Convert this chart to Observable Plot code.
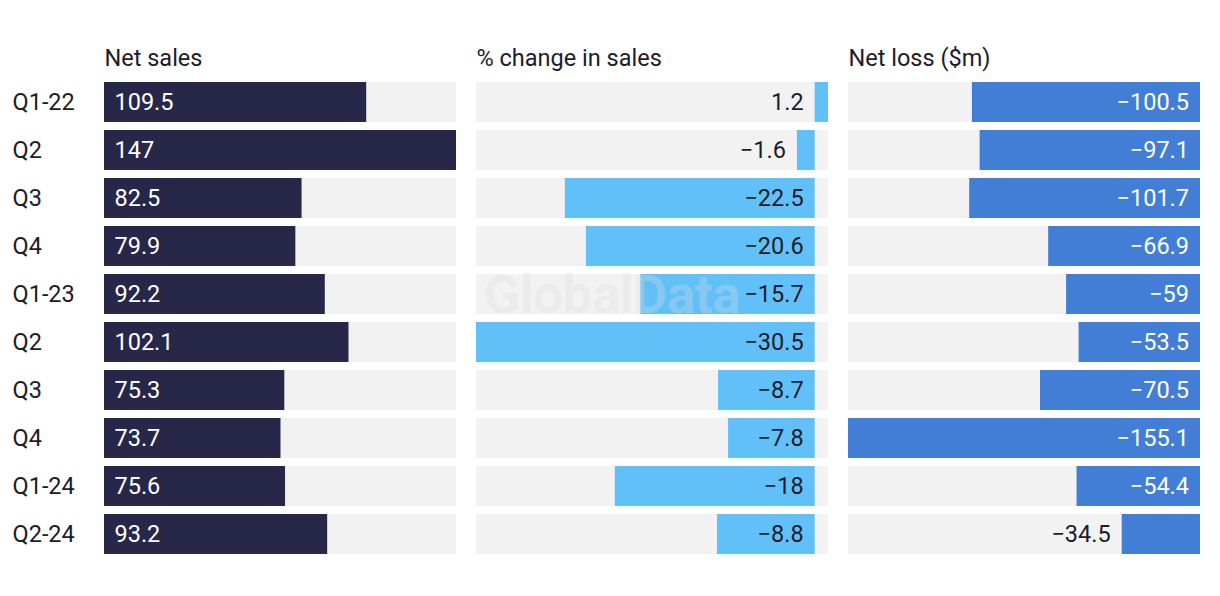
<!DOCTYPE html>
<html>
<head>
<meta charset="utf-8">
<script src="https://cdn.jsdelivr.net/npm/d3@7"></script>
<script src="https://cdn.jsdelivr.net/npm/@observablehq/plot@0.6"></script>
<style>
  html, body { margin: 0; padding: 0; background: #ffffff; }
  #wrap { position: relative; width: 1220px; height: 596px; display: flex; font-family: Roboto, "Noto Sans", sans-serif; }
  #wrap svg { display: block; }
  #wm { position: absolute; left: 484px; top: 264px; font: bold 53px Roboto, sans-serif; color: rgba(220,220,220,0.3); pointer-events: none; letter-spacing: -0.5px; }
</style>
</head>
<body>
<div id="wrap"></div>
<script>
// ---- data ----
const periods = ["Q1-22", "Q2", "Q3", "Q4", "Q1-23", "Q2", "Q3", "Q4", "Q1-24", "Q2-24"];
const netSales = [109.5, 147, 82.5, 79.9, 92.2, 102.1, 75.3, 73.7, 75.6, 93.2];
const pctChange = [1.2, -1.6, -22.5, -20.6, -15.7, -30.5, -8.7, -7.8, -18, -8.8];
const netLoss = [-100.5, -97.1, -101.7, -66.9, -59, -53.5, -70.5, -155.1, -54.4, -34.5];
const panelTitles = ["Net sales", "% change in sales", "Net loss ($m)"];

const idx = periods.map((_, i) => i);
const fmt = v => String(v).replace("-", "\u2212");
const FONT = 23.5;
const INK = "#1c1c2a";
const common = {
  height: 596,
  marginTop: 82,
  marginBottom: 42,
  style: { fontFamily: "Roboto, 'Noto Sans', sans-serif", fontSize: FONT + "px", background: "transparent", color: INK },
  y: { domain: idx, paddingInner: 8 / 48, paddingOuter: 0, axis: null, label: null }
};
const BG = "#f2f2f2";

function labelWidth(s) { return s.length * FONT * 0.56; }

function panel({ values, domain, color, width, marginLeft, marginRight, title, labelMode, withAxis }) {
  const rows = idx.map(i => ({ i, v: values[i] }));
  const pxPerUnit = (width - marginLeft - marginRight) / (domain[1] - domain[0]);
  const marks = [
    Plot.barX(rows, { y: "i", x1: () => domain[0], x2: () => domain[1], fill: BG }),
    Plot.barX(rows, { y: "i", x1: () => 0, x2: "v", fill: color })
  ];
  if (labelMode === "left") {
    marks.push(Plot.text(rows, { y: "i", x: () => 0, text: d => fmt(d.v), textAnchor: "start", dx: 10, fill: "white", fontSize: FONT }));
  } else {
    const inside = d => Math.abs(d.v) * pxPerUnit > labelWidth(fmt(d.v)) + 22;
    marks.push(Plot.text(rows, {
      y: "i",
      x: d => (d.v >= 0 || inside(d)) ? 0 : d.v,
      text: d => fmt(d.v),
      textAnchor: "end",
      dx: -11.5,
      fill: d => (labelMode === "rightWhite" && inside(d)) ? "white" : INK,
      fontSize: FONT
    }));
  }
  marks.push(Plot.text([title], { frameAnchor: "top-left", dy: -24, text: d => d, textAnchor: "start", lineAnchor: "middle", fontSize: FONT, fill: INK }));
  if (withAxis) {
    marks.push(Plot.axisY({ anchor: "left", label: null, tickSize: 0, tickPadding: 92, textAnchor: "start", tickFormat: i => periods[i], fontSize: FONT, fill: INK }));
  }
  return Plot.plot({
    ...common,
    width, marginLeft, marginRight,
    x: { domain, axis: null },
    marks
  });
}

const wrap = document.getElementById("wrap");
wrap.appendChild(panel({ values: netSales, domain: [0, 147], color: "#27274a", width: 466, marginLeft: 104, marginRight: 10, title: panelTitles[0], labelMode: "left", withAxis: true }));
wrap.appendChild(panel({ values: pctChange, domain: [-30.5, 1.2], color: "#62c0f8", width: 372, marginLeft: 10, marginRight: 10, title: panelTitles[1], labelMode: "rightDark" }));
wrap.appendChild(panel({ values: netLoss, domain: [-155.1, 0], color: "#437ed6", width: 382, marginLeft: 10, marginRight: 20, title: panelTitles[2], labelMode: "rightWhite" }));
const wm = document.createElement("div");
wm.id = "wm";
wm.textContent = "GlobalData";
wrap.appendChild(wm);
</script>
</body>
</html>
